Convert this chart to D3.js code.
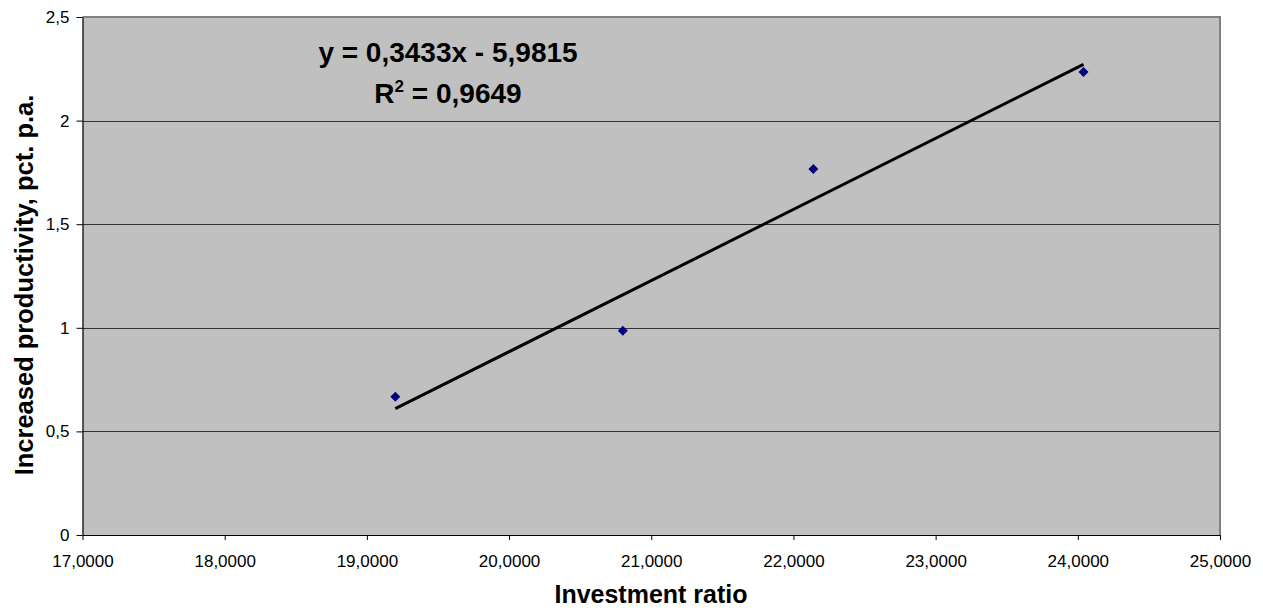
<!DOCTYPE html>
<html>
<head>
<meta charset="utf-8">
<script src="https://cdn.jsdelivr.net/npm/d3@7"></script>
<style>
  body { margin: 0; background: #fff; }
  svg { font-family: Arial, "Liberation Sans", sans-serif; }
</style>
</head>
<body>
<div class="chart"></div>
<script>
// observed points
var investment = [19.2, 20.8, 22.14, 24.04];
var productivity = [0.667, 0.986, 1.766, 2.235];
// trend line from the chart
var slope = 0.3433, intercept = -5.9815;
var xTicks = [17, 18, 19, 20, 21, 22, 23, 24, 25];
var yTicks = [0, 0.5, 1, 1.5, 2, 2.5];

var width = 1263, height = 610;
var pLeft = 82.5, pRight = 1220, pTop = 17, pBottom = 535;

var svg = d3.select(".chart").append("svg").attr("width", width).attr("height", height);

var x = d3.scaleLinear().domain([17, 25]).range([pLeft, pRight]);
var y = d3.scaleLinear().domain([0, 2.5]).range([pBottom, pTop]);
var fmtX = function(d) { return d3.format(".4f")(d).replace(".", ","); };
var fmtY = function(d) { return String(d).replace(".", ","); };

svg.append("rect")
  .attr("x", pLeft).attr("y", pTop)
  .attr("width", pRight - pLeft).attr("height", pBottom - pTop)
  .attr("fill", "#c0c0c0");

// gridlines
svg.append("g").selectAll("line")
  .data(yTicks.filter(function(d) { return d > 0 && d < 2.5; }))
  .enter().append("line")
  .attr("x1", pLeft).attr("x2", pRight)
  .attr("y1", function(d) { return Math.round(y(d)) + 0.5; })
  .attr("y2", function(d) { return Math.round(y(d)) + 0.5; })
  .attr("stroke", "#333").attr("stroke-width", 1);

// top / right border
svg.append("path")
  .attr("d", "M" + pLeft + "," + pTop + "H" + pRight + "V" + pBottom)
  .attr("fill", "none").attr("stroke", "#808080").attr("stroke-width", 2);

var xAxis = svg.append("g")
  .attr("transform", "translate(0," + pBottom + ")")
  .call(d3.axisBottom(x).tickValues(xTicks).tickFormat(fmtX).tickSize(5).tickSizeOuter(0));
var yAxis = svg.append("g")
  .attr("transform", "translate(" + pLeft + ",0)")
  .call(d3.axisLeft(y).tickValues(yTicks).tickFormat(fmtY).tickSize(6).tickSizeOuter(0));

[xAxis, yAxis].forEach(function(a) {
  a.attr("font-size", null).attr("font-family", null);
  a.select(".domain").attr("stroke", "#000").attr("stroke-width", 1.2);
  a.selectAll(".tick line").attr("stroke", "#000");
  a.selectAll("text").style("font-size", "17px").attr("fill", "#000");
});
xAxis.selectAll("text").attr("y", 32).attr("dy", 0);
yAxis.selectAll("text").attr("x", -13);

// trend line
var x0 = d3.min(investment), x1 = d3.max(investment);
svg.append("line")
  .attr("x1", x(x0)).attr("y1", y(slope * x0 + intercept))
  .attr("x2", x(x1)).attr("y2", y(slope * x1 + intercept))
  .attr("stroke", "#000").attr("stroke-width", 3);

// points
svg.append("g").selectAll("path")
  .data(investment)
  .enter().append("path")
  .attr("d", d3.symbol().type(d3.symbolSquare).size(50))
  .attr("transform", function(d, i) {
    return "translate(" + x(d) + "," + y(productivity[i]) + ") rotate(45)";
  })
  .attr("fill", "#000080");

// equation
var eq = svg.append("g").attr("font-weight", "bold").attr("font-size", 28).attr("text-anchor", "middle");
eq.append("text").attr("x", 448).attr("y", 62).text("y = 0,3433x - 5,9815");
var r2 = eq.append("text").attr("x", 448).attr("y", 103);
r2.append("tspan").text("R");
r2.append("tspan").attr("font-size", 17).attr("dy", -11).text("2");
r2.append("tspan").attr("dy", 11).text(" = 0,9649");

// axis titles
svg.append("text")
  .attr("x", 651).attr("y", 603)
  .attr("text-anchor", "middle").attr("font-weight", "bold").attr("font-size", 25)
  .text("Investment ratio");
svg.append("text")
  .attr("transform", "translate(33,285) rotate(-90)")
  .attr("text-anchor", "middle").attr("font-weight", "bold").attr("font-size", 25.5)
  .text("Increased productivity, pct. p.a.");
</script>
</body>
</html>
